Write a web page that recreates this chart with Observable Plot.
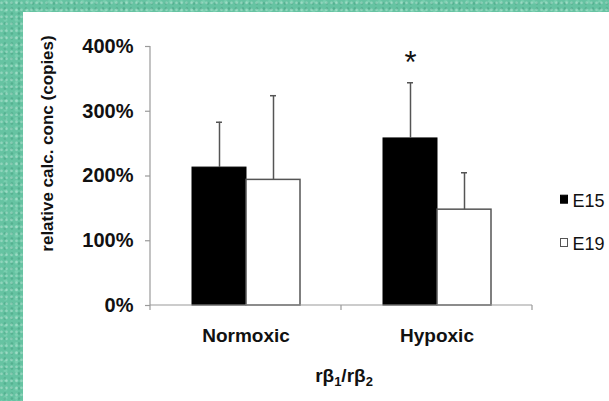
<!DOCTYPE html>
<html>
<head>
<meta charset="utf-8">
<script src="https://cdn.jsdelivr.net/npm/d3@7"></script>
<script src="https://cdn.jsdelivr.net/npm/@observablehq/plot@0.6"></script>
<style>
  html, body { margin: 0; padding: 0; }
  body {
    width: 609px; height: 401px; overflow: hidden; position: relative;
    background-color: #66c3a2;
    background-image:
      radial-gradient(circle at 30% 40%, rgba(255,255,255,0.28) 0.8px, transparent 1.8px),
      radial-gradient(circle at 70% 70%, rgba(0,90,60,0.18) 0.8px, transparent 1.8px),
      radial-gradient(circle at 50% 20%, rgba(200,255,230,0.2) 1px, transparent 2.5px);
    background-size: 5px 7px, 7px 5px, 11px 9px;
    font-family: "Liberation Sans", Arial, sans-serif;
  }
  #panel { position: absolute; left: 23px; top: 12px; right: 0; bottom: 0; background: #fff; }
  #chart { position: absolute; left: 0; top: 0; }
</style>
</head>
<body>
<div id="panel"></div>
<div id="chart"></div>
<script>
// ---- data ----
const categories = ["Normoxic", "Hypoxic"];
const series = ["E15", "E19"];
const e15Mean = [2.13, 2.58];
const e15Upper = [2.83, 3.44];
const e19Mean = [1.94, 1.48];
const e19Upper = [3.24, 2.05];
const yTicks = [0, 1, 2, 3, 4];
const yTickLabels = ["0%", "100%", "200%", "300%", "400%"];
const sigCategory = ["Hypoxic"];
const sigSeries = ["E15"];
const sigY = [3.74];
const sigText = ["*"];
const yAxisTitle = "relative calc. conc (copies)";
const xAxisTitleParts = [["rβ", false], ["1", true], ["/rβ", false], ["2", true]];

// ---- tables ----
const rows = categories.flatMap((c, i) => [
  {category: c, series: series[0], mean: e15Mean[i], upper: e15Upper[i]},
  {category: c, series: series[1], mean: e19Mean[i], upper: e19Upper[i]}
]);
const sigRows = sigCategory.map((c, i) => ({category: c, series: sigSeries[i], y: sigY[i], text: sigText[i]}));

const axisColor = "#9a9a9a";
const font = "'Liberation Sans', Arial, sans-serif";

// per-facet axis lines and between-category ticks (Excel style)
let frameCall = 0;
function axisFrame(index, scales, values, dimensions) {
  const call = frameCall++;
  const key = index && index.fx !== undefined ? index.fx : categories[call % categories.length];
  const k = categories.indexOf(key);
  const {width, marginRight, marginLeft} = dimensions;
  const left = marginLeft, right = width - marginRight;
  const y = scales.y;
  const yTop = y(yTicks[yTicks.length - 1]);
  const yBottom = y(0);
  const g = d3.create("svg:g").attr("stroke", axisColor).attr("stroke-width", 1.2).attr("fill", "none");
  g.append("line").attr("x1", left).attr("x2", right).attr("y1", yBottom).attr("y2", yBottom);
  g.append("line").attr("x1", left).attr("x2", left).attr("y1", yBottom).attr("y2", yBottom + 5);
  if (k === categories.length - 1) {
    g.append("line").attr("x1", right).attr("x2", right).attr("y1", yBottom).attr("y2", yBottom + 5);
  }
  if (k === 0) {
    g.append("line").attr("x1", left).attr("x2", left).attr("y1", yTop).attr("y2", yBottom);
  }
  return g.node();
}

const chart = Plot.plot({
  width: 609,
  height: 401,
  marginLeft: 149,
  marginRight: 77,
  marginTop: 46,
  marginBottom: 96,
  facet: {marginTop: 0, marginBottom: 0, marginLeft: 0, marginRight: 0},
  style: {background: "transparent", fontFamily: font, color: "#111"},
  fx: {domain: categories, padding: 0},
  x: {domain: series, paddingInner: 0, paddingOuter: 0.757, axis: null},
  y: {domain: [0, 4]},
  marks: [
    Plot.barY(rows.filter(d => d.series === series[0]), {fx: "category", x: "series", y: "mean", fill: "#000", stroke: "#000", strokeWidth: 1}),
    Plot.barY(rows.filter(d => d.series === series[1]), {fx: "category", x: "series", y: "mean", fill: "#fff", stroke: "#555", strokeWidth: 1.5}),
    Plot.ruleX(rows, {fx: "category", x: "series", y1: "mean", y2: "upper", stroke: "#555", strokeWidth: 1.5}),
    Plot.tickY(rows, {fx: "category", x: "series", y: "upper", stroke: "#555", strokeWidth: 1.5, insetLeft: 24, insetRight: 24}),
    Plot.text(sigRows, {fx: "category", x: "series", y: "y", text: "text", fontSize: 31, lineAnchor: "middle", fill: "#111"}),
    axisFrame,
    Plot.axisY({ticks: yTicks, tickFormat: d => yTickLabels[yTicks.indexOf(d)], tickSize: 5, tickPadding: 12,
      stroke: axisColor, strokeWidth: 1.2, fill: "#111", fontSize: 20, fontWeight: "bold", label: null}),
    Plot.axisFx({anchor: "bottom", tickSize: 0, tickPadding: 23, fill: "#111", fontSize: 19, fontWeight: "bold", label: null})
  ]
});
document.getElementById("chart").appendChild(chart);

// titles and legend added to the svg
const svg = d3.select(chart);
const annot = svg.append("g").attr("font-family", font).attr("fill", "#111");

annot.append("text")
  .attr("transform", "translate(52.5,143.5) rotate(-90)")
  .attr("text-anchor", "middle")
  .attr("font-size", 17).attr("font-weight", "bold")
  .text(yAxisTitle);

const xt = annot.append("text")
  .attr("x", 344).attr("y", 382)
  .attr("text-anchor", "middle")
  .attr("font-size", 19).attr("font-weight", "bold");
let shifted = false;
for (const [t, sub] of xAxisTitleParts) {
  const ts = xt.append("tspan").text(t);
  if (sub && !shifted) { ts.attr("dy", 4).attr("font-size", 13); shifted = true; }
  else if (sub) { ts.attr("font-size", 13); }
  else if (shifted) { ts.attr("dy", -4); shifted = false; }
}

const legendFill = ["#000", "#fff"];
const legendBorder = ["#000", "#555"];
series.forEach((s, i) => {
  const base = 206.7 + i * 43.3;
  annot.append("rect")
    .attr("x", 560.5).attr("y", base - 11.5).attr("width", 7).attr("height", 8)
    .attr("fill", legendFill[i]).attr("stroke", legendBorder[i]).attr("stroke-width", 1);
  annot.append("text")
    .attr("x", 572.5).attr("y", base)
    .attr("text-anchor", "start")
    .attr("font-size", 18)
    .text(s);
});
</script>
</body>
</html>
